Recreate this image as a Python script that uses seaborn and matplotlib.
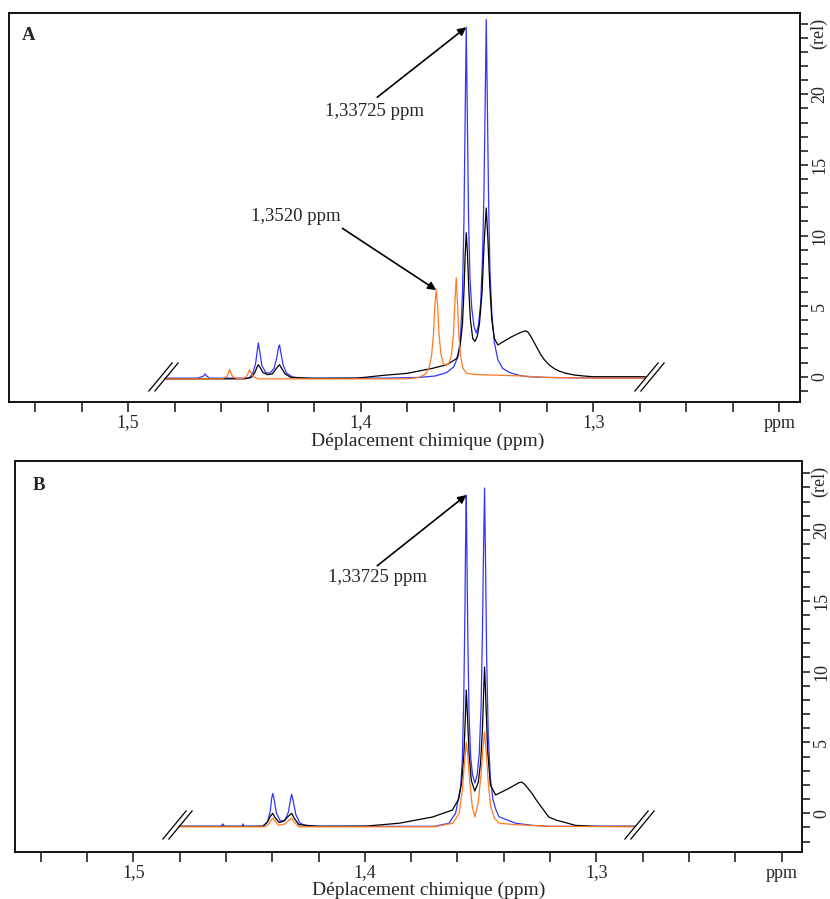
import numpy as np
import matplotlib
matplotlib.use("Agg")
import matplotlib.pyplot as plt
from matplotlib.path import Path
from matplotlib.ticker import MultipleLocator, FixedLocator, FixedFormatter
import seaborn as sns

# ---- spectrum A (ppm, relative intensity) ----
blue_a_ppm = [1.4841, 1.4700, 1.4675, 1.4669, 1.4662, 1.4650, 1.4480, 1.4465, 1.4452, 1.4445,
              1.4440, 1.4434, 1.4425, 1.4408, 1.4390, 1.4372, 1.4360, 1.4353, 1.4349, 1.4343,
              1.4333, 1.4318, 1.4295, 1.4260, 1.3900, 1.3750, 1.3680, 1.3630, 1.3600, 1.3580,
              1.3570, 1.3562, 1.3556, 1.3551, 1.3546, 1.3541, 1.3536, 1.3530, 1.3522, 1.3512,
              1.3503, 1.3494, 1.3484, 1.3476, 1.3470, 1.3465, 1.3460, 1.3455, 1.3450, 1.3444,
              1.3436, 1.3425, 1.3410, 1.3390, 1.3360, 1.3320, 1.3280, 1.3200, 1.3000, 1.2776]
blue_a_rel = [-0.1, -0.1, 0.05, 0.2, 0.05, -0.1, -0.1, 0.2, 0.9, 1.8,
              2.4, 1.8, 0.8, 0.3, 0.25, 0.6, 1.4, 2.1, 2.25, 1.7,
              0.8, 0.25, 0.0, -0.1, -0.1, -0.05, 0.05, 0.3, 0.7, 1.5,
              3.0, 6.0, 11.0, 18.0, 24.75, 18.0, 11.0, 7.0, 4.8, 3.5,
              3.1, 3.6, 5.2, 8.5, 13.0, 19.0, 25.3, 19.0, 12.5, 7.5,
              4.5, 2.4, 1.2, 0.6, 0.3, 0.1, 0.0, -0.05, -0.1, -0.1]

black_a_ppm = [1.4841, 1.4500, 1.4470, 1.4455, 1.4445, 1.4440, 1.4434, 1.4420, 1.4400, 1.4380,
               1.4362, 1.4349, 1.4340, 1.4325, 1.4300, 1.4200, 1.4016, 1.3900, 1.3800, 1.3690,
               1.3630, 1.3586, 1.3572, 1.3562, 1.3556, 1.3551, 1.3546, 1.3541, 1.3535, 1.3528,
               1.3518, 1.3508, 1.3498, 1.3489, 1.3478, 1.3469, 1.3460, 1.3453, 1.3445, 1.3436,
               1.3425, 1.3410, 1.3390, 1.3360, 1.3330, 1.3310, 1.3292, 1.3280, 1.3268, 1.3255,
               1.3240, 1.3225, 1.3210, 1.3190, 1.3170, 1.3150, 1.3120, 1.3080, 1.3040, 1.3000,
               1.2776]
black_a_rel = [-0.15, -0.15, -0.05, 0.3, 0.7, 0.85, 0.7, 0.3, 0.15, 0.2,
               0.6, 0.85, 0.6, 0.2, -0.05, -0.12, -0.1, 0.1, 0.24, 0.6,
               0.85, 1.3, 2.2, 3.8, 6.0, 8.5, 10.2, 8.8, 6.2, 4.0,
               2.7, 2.5, 2.9, 3.8, 6.0, 9.5, 11.95, 9.8, 6.5, 4.0,
               2.7, 2.25, 2.45, 2.75, 3.0, 3.15, 3.25, 3.15, 2.85, 2.45,
               2.0, 1.55, 1.2, 0.85, 0.6, 0.42, 0.25, 0.12, 0.05, 0.0,
               0.0]

orange_a_ppm = [1.4841, 1.4600, 1.4575, 1.4568, 1.4564, 1.4559, 1.4550, 1.4530, 1.4500, 1.4488,
                1.4480, 1.4478, 1.4472, 1.4462, 1.4440, 1.3800, 1.3750, 1.3720, 1.3705, 1.3695,
                1.3687, 1.3681, 1.3675, 1.3669, 1.3663, 1.3655, 1.3645, 1.3635, 1.3622, 1.3610,
                1.3601, 1.3594, 1.3589, 1.3584, 1.3578, 1.3570, 1.3560, 1.3545, 1.3500, 1.3400,
                1.3300, 1.3200, 1.3000, 1.2776]
orange_a_rel = [-0.15, -0.15, 0.0, 0.3, 0.5, 0.3, 0.0, -0.15, -0.1, 0.1,
                0.4, 0.5, 0.3, 0.0, -0.15, -0.15, -0.05, 0.2, 0.7, 1.5,
                3.0, 5.0, 6.14, 5.0, 3.0, 1.6, 0.95, 0.8, 0.9, 1.5,
                3.0, 5.5, 7.0, 5.3, 3.0, 1.4, 0.6, 0.25, 0.15, 0.1,
                0.05, -0.05, -0.1, -0.1]

# ---- spectrum B ----
blue_b_ppm = [1.4803, 1.4620, 1.4613, 1.4606, 1.4530, 1.4527, 1.4522, 1.4440, 1.4420, 1.4408,
              1.4403, 1.4398, 1.4392, 1.4382, 1.4365, 1.4345, 1.4330, 1.4321, 1.4316, 1.4310,
              1.4298, 1.4280, 1.4250, 1.4000, 1.3700, 1.3637, 1.3608, 1.3586, 1.3579, 1.3573,
              1.3568, 1.3565, 1.3562, 1.3559, 1.3555, 1.3550, 1.3543, 1.3535, 1.3525, 1.3515,
              1.3506, 1.3498, 1.3492, 1.3487, 1.3483, 1.3479, 1.3474, 1.3467, 1.3458, 1.3447,
              1.3435, 1.3421, 1.3349, 1.3278, 1.3200, 1.2832]
blue_b_rel = [-0.92, -0.92, -0.75, -0.92, -0.92, -0.75, -0.92, -0.9, -0.6, 0.2,
              1.0, 1.4, 1.0, 0.0, -0.55, -0.5, 0.1, 1.0, 1.35, 0.9,
              -0.1, -0.7, -0.9, -0.92, -0.92, -0.7, 0.0, 1.9, 3.8, 8.0,
              14.0, 19.0, 22.46, 18.0, 12.0, 7.0, 4.0, 2.7, 2.14, 2.7,
              4.2, 7.5, 13.0, 19.0, 22.96, 18.0, 11.0, 5.5, 2.5, 1.0,
              0.3, -0.24, -0.7, -0.85, -0.92, -0.92]

black_b_ppm = [1.4803, 1.4440, 1.4420, 1.4408, 1.4398, 1.4388, 1.4370, 1.4350, 1.4330, 1.4316,
               1.4305, 1.4285, 1.4200, 1.3995, 1.3852, 1.3708, 1.3622, 1.3595, 1.3582, 1.3572,
               1.3566, 1.3562, 1.3557, 1.3550, 1.3540, 1.3525, 1.3510, 1.3500, 1.3492, 1.3487,
               1.3483, 1.3478, 1.3470, 1.3458, 1.3435, 1.3410, 1.3378, 1.3335, 1.3322, 1.3310,
               1.3295, 1.3278, 1.3260, 1.3240, 1.3222, 1.3206, 1.3170, 1.3134, 1.3091, 1.3000,
               1.2832]
black_b_rel = [-0.92, -0.92, -0.6, -0.2, 0.0, -0.3, -0.65, -0.55, -0.2, 0.0,
               -0.35, -0.8, -0.92, -0.9, -0.7, -0.26, 0.23, 1.0, 2.2, 4.2,
               6.8, 8.7, 7.0, 4.2, 2.3, 1.57, 2.2, 3.6, 6.0, 8.5,
               10.33, 8.2, 4.5, 2.0, 1.29, 1.5, 1.76, 2.16, 2.2, 2.05,
               1.75, 1.4, 0.95, 0.5, 0.1, -0.26, -0.5, -0.65, -0.85, -0.92,
               -0.92]

orange_b_ppm = [1.4803, 1.4430, 1.4412, 1.4404, 1.4398, 1.4390, 1.4372, 1.4345, 1.4325, 1.4316,
                1.4306, 1.4285, 1.3700, 1.3620, 1.3593, 1.3579, 1.3570, 1.3562, 1.3555, 1.3548,
                1.3536, 1.3525, 1.3510, 1.3498, 1.3490, 1.3483, 1.3476, 1.3468, 1.3457, 1.3440,
                1.3421, 1.3349, 1.3200, 1.2832]
orange_b_rel = [-0.95, -0.95, -0.7, -0.45, -0.35, -0.5, -0.85, -0.75, -0.45, -0.35,
                -0.6, -0.95, -0.95, -0.7, 0.0, 1.6, 3.5, 5.03, 4.0, 2.4,
                0.47, -0.26, 0.8, 2.8, 4.6, 5.74, 4.4, 2.4, 0.5, -0.35,
                -0.7, -0.8, -0.92, -0.95]

# axis labelling
x_tick_values = [1.54, 1.52, 1.50, 1.48, 1.46, 1.44, 1.42, 1.40, 1.38,
                 1.36, 1.34, 1.32, 1.30, 1.28, 1.26, 1.24, 1.22]
x_tick_text = ["", "", "1,5", "", "", "", "", "1,4", "",
               "", "", "", "1,3", "", "", "", "ppm"]
y_major_ticks = [0, 5, 10, 15, 20]
x_label = "Déplacement chimique (ppm)"
y_unit = "(rel)"
peak_label = "1,33725 ppm"
orange_label = "1,3520 ppm"

BLUE = "#3434ff"
ORANGE = "#ff7a22"
SERIF = ["Liberation Serif", "DejaVu Serif"]

sns.set_style("white")
plt.rcParams["font.family"] = SERIF
plt.rcParams["axes.edgecolor"] = "black"
plt.rcParams["axes.linewidth"] = 1.3

# break marker: two parallel slanted strokes (pixel units, scaled by markersize)
left_break = Path([(-17, -13), (7, 16), (-11, -13), (13, 16)],
                  [Path.MOVETO, Path.LINETO, Path.MOVETO, Path.LINETO])
right_break = Path([(-11, -13), (13, 16), (-5, -13), (19, 16)],
                   [Path.MOVETO, Path.LINETO, Path.MOVETO, Path.LINETO])


def draw_panel(ax, traces, xlim, ylim, letter, label_pos, rel_pos, xlabel_y):
    for ppm, rel, col in traces:
        sns.lineplot(x=ppm, y=rel, ax=ax, color=col, lw=0.9,
                     estimator=None, sort=False, legend=False)
    ax.set_xlim(*xlim)
    ax.set_ylim(*ylim)

    # break marks at both ends of the traced range
    ppm0, rel0 = traces[0][0], traces[0][1]
    ax.plot([ppm0[0]], [rel0[0]], marker=left_break, ms=24.5, mfc="none",
            mec="black", mew=0.9, ls="none")
    ax.plot([ppm0[-1]], [rel0[-1]], marker=right_break, ms=27.4, mfc="none",
            mec="black", mew=0.9, ls="none")

    ax.xaxis.set_major_locator(FixedLocator(x_tick_values))
    ax.xaxis.set_major_formatter(FixedFormatter(x_tick_text))
    ax.tick_params(axis="x", direction="out", length=7, width=1.2,
                   labelsize=13, pad=2, bottom=True, top=False)

    ax.yaxis.tick_right()
    ax.yaxis.set_major_locator(FixedLocator(y_major_ticks))
    ax.yaxis.set_minor_locator(MultipleLocator(1))
    ax.tick_params(axis="y", which="both", direction="out", length=6, width=1.2,
                   labelsize=13, pad=2, labelrotation=90, right=True, left=False)
    for lab in ax.get_yticklabels():
        lab.set_verticalalignment("center")

    ax.set_xlabel(x_label, fontsize=14)
    ax.xaxis.set_label_coords(label_pos, xlabel_y)
    ax.set_ylabel("")
    ax.text(rel_pos[0], rel_pos[1], y_unit, transform=ax.transAxes, rotation=90,
            ha="center", va="center", fontsize=13)
    ax.text(letter[1], letter[2], letter[0], transform=ax.transAxes,
            ha="center", va="center", fontsize=13.5, fontweight="bold")
    for s in ax.spines.values():
        s.set_visible(True)
        s.set_color("black")


def peak_point(ppm, rel, lo, hi):
    ppm = np.asarray(ppm)
    rel = np.asarray(rel)
    mask = (ppm > lo) & (ppm < hi)
    i = np.argmax(np.where(mask, rel, -np.inf))
    return ppm[i], rel[i]


def arrow(ax, xy, dxdy):
    ax.annotate("", xy=xy, xytext=dxdy, textcoords="offset points",
                arrowprops=dict(arrowstyle="-|>", color="black", lw=1.2,
                                mutation_scale=12, shrinkA=0, shrinkB=0))


fig = plt.figure(figsize=(8.3, 8.99), dpi=100)
ax_a = fig.add_axes([9 / 830, 1 - 402 / 899, 791 / 830, 389 / 899])
ax_b = fig.add_axes([15 / 830, 1 - 852 / 899, 787 / 830, 390.5 / 899])

draw_panel(ax_a,
           [(blue_a_ppm, blue_a_rel, BLUE), (black_a_ppm, black_a_rel, "black"),
            (orange_a_ppm, orange_a_rel, ORANGE)],
           (1.5512, 1.2111), (-1.79, 25.76), ("A", 0.0253, 0.9434),
           0.5297, (1.0235, 0.9486), -0.079)
draw_panel(ax_b,
           [(blue_b_ppm, blue_b_rel, BLUE), (black_b_ppm, black_b_rel, "black"),
            (orange_b_ppm, orange_b_rel, ORANGE)],
           (1.5511, 1.2112), (-2.73, 24.83), ("B", 0.0305, 0.9398),
           0.526, (1.0225, 0.948), -0.075)

# annotations
pa = peak_point(blue_a_ppm, blue_a_rel, 1.350, 1.360)
arrow(ax_a, pa, (-64.1, -50.4))
ax_a.text(0.462, 0.746, peak_label, transform=ax_a.transAxes,
          ha="center", va="center", fontsize=13.5)

po = peak_point(orange_a_ppm, orange_a_rel, 1.362, 1.372)
arrow(ax_a, po, (-67.5, 44.4))
ax_a.text(0.3626, 0.4763, orange_label, transform=ax_a.transAxes,
          ha="center", va="center", fontsize=13.5)

pb = peak_point(blue_b_ppm, blue_b_rel, 1.352, 1.360)
arrow(ax_b, pb, (-64.1, -50.9))
ax_b.text(0.4604, 0.7042, peak_label, transform=ax_b.transAxes,
          ha="center", va="center", fontsize=13.5)

fig.savefig("out.png", dpi=100)
